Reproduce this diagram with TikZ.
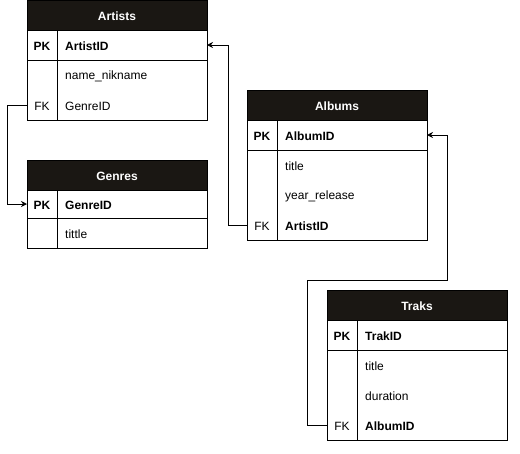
\documentclass[tikz,border=0pt]{standalone}
\usepackage{fontspec}
\setmainfont{Liberation Sans}
\usetikzlibrary{arrows.meta}
\definecolor{hdrcol}{RGB}{26,23,19}
\tikzset{
  x=1pt, y=1pt,
  every node/.style={font=\fontsize{12}{14}\selectfont},
  hdr/.style={draw=black, fill=hdrcol, text=white, font=\fontsize{12}{14}\selectfont\bfseries,
    minimum width=180pt, minimum height=30pt, anchor=north west, inner sep=0pt, outer sep=0pt,
    text depth=0pt, text height=11pt},
  framebox/.style={draw=black, fill=white, minimum width=180pt, anchor=north west, inner sep=0pt, outer sep=0pt},
  rowbox/.style={minimum width=180pt, minimum height=30pt, anchor=north west, inner sep=0pt, outer sep=0pt},
  keylbl/.style={anchor=center, inner sep=0pt, yshift=-1pt},
  fld/.style={anchor=west, inner sep=0pt, yshift=-1pt},
  bfld/.style={anchor=west, inner sep=0pt, yshift=-1pt, font=\fontsize{12}{14}\selectfont\bfseries},
  rel/.style={draw=black, line width=0.8pt, -{Stealth[length=6pt,width=6pt,inset=2pt]}},
  tline/.style={draw=black, line width=0.8pt},
}
\begin{document}
\begin{tikzpicture}
\useasboundingbox (0,0) rectangle (520,-453);
% ---------- Artists ----------
\node[framebox, minimum height=90pt] (artists-body) at (27,-30) {};
\node[hdr] (artists) at (27,0) {Artists};
\node[rowbox] (artists-pk) at (27,-30) {};
\node[rowbox] (artists-r2) at (27,-60) {};
\node[rowbox] (artists-fk) at (27,-90) {};
\draw[tline] (27,-60) -- (207,-60);
\draw[tline] (57,-30) -- (57,-120);
\draw[tline] (artists-body.north west) rectangle (artists-body.south east);
\node[keylbl, font=\fontsize{12}{14}\selectfont\bfseries] at (42,-45) {PK};
\node[bfld] at (65,-45) {ArtistID};
\node[fld] at (65,-75) {name\_nikname};
\node[keylbl] at (42,-105) {FK};
\node[fld] at (65,-105) {GenreID};
% ---------- Genres ----------
\node[framebox, minimum height=58pt] (genres-body) at (27,-190) {};
\node[hdr] (genres) at (27,-160) {Genres};
\node[rowbox, minimum height=28pt] (genres-pk) at (27,-190) {};
\node[rowbox] (genres-r2) at (27,-218) {};
\draw[tline] (27,-218) -- (207,-218);
\draw[tline] (57,-190) -- (57,-248);
\draw[tline] (genres-body.north west) rectangle (genres-body.south east);
\node[keylbl, font=\fontsize{12}{14}\selectfont\bfseries] at (42,-204) {PK};
\node[bfld] at (65,-204) {GenreID};
\node[fld] at (65,-233) {tittle};
% ---------- Albums ----------
\node[framebox, minimum height=120pt] (albums-body) at (247,-120) {};
\node[hdr] (albums) at (247,-90) {Albums};
\node[rowbox] (albums-pk) at (247,-120) {};
\node[rowbox] (albums-fk) at (247,-210) {};
\draw[tline] (247,-150) -- (427,-150);
\draw[tline] (277,-120) -- (277,-240);
\draw[tline] (albums-body.north west) rectangle (albums-body.south east);
\node[keylbl, font=\fontsize{12}{14}\selectfont\bfseries] at (262,-135) {PK};
\node[bfld] at (285,-135) {AlbumID};
\node[fld] at (285,-165) {title};
\node[fld] at (285,-195) {year\_release};
\node[keylbl] at (262,-225) {FK};
\node[bfld] at (285,-225) {ArtistID};
% ---------- Traks ----------
\node[framebox, minimum height=120pt] (traks-body) at (327,-320) {};
\node[hdr] (traks) at (327,-290) {Traks};
\node[rowbox] (traks-pk) at (327,-320) {};
\node[rowbox] (traks-fk) at (327,-410) {};
\draw[tline] (327,-350) -- (507,-350);
\draw[tline] (357,-320) -- (357,-440);
\draw[tline] (traks-body.north west) rectangle (traks-body.south east);
\node[keylbl, font=\fontsize{12}{14}\selectfont\bfseries] at (342,-335) {PK};
\node[bfld] at (365,-335) {TrakID};
\node[fld] at (365,-365) {title};
\node[fld] at (365,-395) {duration};
\node[keylbl] at (342,-425) {FK};
\node[bfld] at (365,-425) {AlbumID};
% ---------- Relations ----------
\coordinate (c1) at (7,-105);
\coordinate (c2) at (228,-225);
\coordinate (c3) at (307,-425);
\coordinate (c4) at (447,-280);
\draw[rel] (artists-fk.west) -- (c1) |- (genres-pk.west);
\draw[rel] (albums-fk.west) -- (c2) |- ([yshift=-15pt]artists.south east);
\draw[rel] (traks-fk.west) -- (c3) |- (c4) |- (albums-pk.east);
\end{tikzpicture}
\end{document}
